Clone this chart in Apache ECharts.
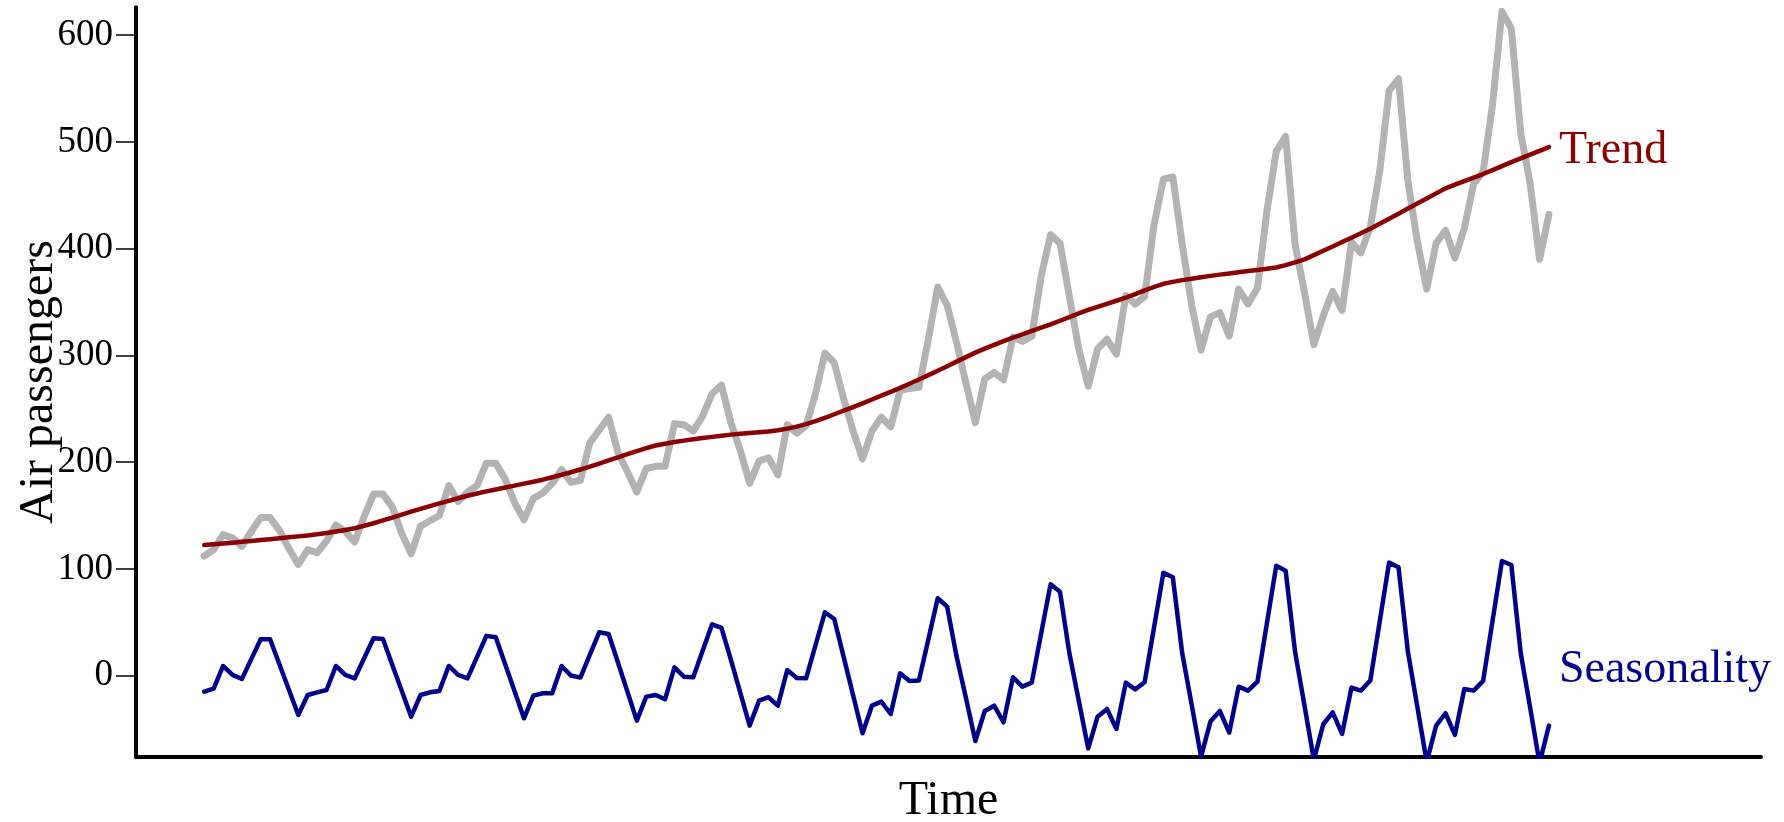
<!DOCTYPE html>
<html>
<head>
<meta charset="utf-8">
<script src="https://cdn.jsdelivr.net/npm/echarts@6/dist/echarts.min.js"></script>
<style>
html,body{margin:0;padding:0;background:#fff;}
#chart{width:1784px;height:822px;}
</style>
</head>
<body>
<div id="chart"></div>
<script>
// Monthly AirPassengers, Jan 1949 .. Dec 1960
const passengers = [
112,118,132,129,121,135,148,148,136,119,104,118,
115,126,141,135,125,149,170,170,158,133,114,140,
145,150,178,163,172,178,199,199,184,162,146,166,
171,180,193,181,183,218,230,242,209,191,172,194,
196,196,236,235,229,243,264,272,237,211,180,201,
204,188,235,227,234,264,302,293,259,229,203,229,
242,233,267,269,270,315,364,347,312,274,237,278,
284,277,317,313,318,374,413,405,355,306,271,306,
315,301,356,348,355,422,465,467,404,347,305,336,
340,318,362,348,363,435,491,505,404,359,310,337,
360,342,406,396,420,472,548,559,463,407,362,405,
417,391,419,461,472,535,622,606,508,461,390,432
];

const trend = [
122.3,123.0,123.8,124.5,125.3,126.1,126.9,127.7,128.6,129.5,130.4,131.3,
132.3,133.5,134.9,136.4,138.0,140.3,142.7,145.3,148.0,150.8,153.5,156.2,
158.8,161.3,163.7,166.1,168.4,170.5,172.5,174.3,176.1,177.9,179.8,181.6,
183.5,185.8,188.1,190.5,193.0,195.8,198.6,201.5,204.5,207.4,210.3,213.0,
215.5,217.2,218.8,220.1,221.3,222.5,223.6,224.7,225.7,226.5,227.2,227.9,
228.6,229.8,231.3,233.2,235.6,238.4,241.5,244.8,248.1,251.5,255.0,258.6,
262.2,265.8,269.5,273.4,277.4,281.4,285.5,289.8,294.1,298.3,302.5,306.2,
309.8,313.2,316.5,319.7,322.8,325.9,329.0,332.4,335.8,339.2,342.5,345.4,
348.2,351.1,354.0,357.4,360.8,364.0,367.0,368.8,370.4,371.8,373.2,374.4,
375.6,376.7,377.8,378.9,380.0,381.1,382.3,384.5,387.1,389.9,393.8,397.9,
402.0,406.1,410.2,414.3,418.5,423.2,427.9,432.7,437.5,442.2,446.9,451.7,
456.4,459.9,463.2,466.5,469.8,473.5,477.2,480.9,484.5,488.0,491.5,495.0
];

const seasonality = [
-15.1,-12.3,9.0,0.6,-3.2,15.4,34.0,34.0,10.4,-13.3,-36.9,-18.2,
-15.7,-13.5,9.0,0.6,-2.6,16.2,35.0,34.3,10.0,-14.2,-38.5,-18.2,
-15.7,-14.4,9.0,0.6,-2.6,17.3,37.2,35.9,10.6,-14.7,-40.0,-18.8,
-16.6,-16.6,9.0,0.0,-1.9,19.3,40.5,39.0,12.0,-15.0,-42.2,-19.7,
-18.2,-22.2,7.7,-1.0,-1.6,23.2,48.0,44.6,15.0,-16.0,-46.9,-23.5,
-20.3,-28.2,5.2,-2.2,-2.6,28.4,59.3,53.0,17.3,-18.4,-54.1,-28.2,
-24.4,-36.0,2.1,-5.0,-4.7,33.9,72.4,64.6,18.0,-21.0,-61.3,-33.2,
-28.2,-43.8,-1.6,-10.4,-6.6,39.5,85.5,78.6,20.9,-23.6,-68.2,-38.5,
-31.3,-50.0,-6.6,-12.9,-6.3,45.0,96.4,92.0,20.9,-27.0,-76.0,-43.1,
-33.2,-53.4,-10.4,-14.1,-5.7,48.6,102.9,98.3,22.4,-28.0,-79.0,-45.6,
-34.4,-54.7,-11.3,-14.1,-4.7,50.5,105.8,101.4,22.4,-29.0,-81.0,-46.9,
-35.3,-55.6,-12.6,-14.1,-5.0,51.2,107.3,103.6,20.9,-30.0,-82.0,-46.9
];

const yTicks = [0, 100, 200, 300, 400, 500, 600];
const yLabel = 'Air passengers';
const xLabel = 'Time';
const trendName = 'Trend';
const seasonName = 'Seasonality';

const toPairs = arr => arr.map((v, i) => [i, v]);
const serif = '"Liberation Serif", "DejaVu Serif", serif';

const chart = echarts.init(document.getElementById('chart'), null, {renderer: 'canvas'});
chart.setOption({
  animation: false,
  backgroundColor: '#ffffff',
  grid: {left: 136, right: 23, top: 7.3, bottom: 65.3, containLabel: false, outerBoundsMode: 'none'},
  xAxis: {
    type: 'value',
    min: -7.26,
    max: 165.55,
    name: xLabel,
    nameLocation: 'middle',
    nameGap: 21,
    nameMoveOverlap: false,
    nameTextStyle: {fontFamily: serif, fontSize: 48, color: '#000', verticalAlign: 'top'},
    axisLine: {show: true, onZero: false, lineStyle: {color: '#000', width: 4}},
    axisTick: {show: false},
    axisLabel: {show: false},
    splitLine: {show: false}
  },
  yAxis: {
    type: 'value',
    min: -76,
    max: 626,
    name: yLabel,
    nameLocation: 'middle',
    nameGap: 97,
    nameRotate: 90,
    nameMoveOverlap: false,
    nameTextStyle: {fontFamily: serif, fontSize: 48, color: '#000', verticalAlign: 'middle', align: 'center'},
    axisLine: {show: true, onZero: false, lineStyle: {color: '#000', width: 4}},
    axisTick: {show: true, inside: false, length: 20, customValues: yTicks, lineStyle: {color: '#000', width: 1.5}},
    axisLabel: {show: true, customValues: yTicks, margin: 23, fontFamily: serif, fontSize: 37, color: '#000'},
    splitLine: {show: false}
  },
  series: [
    {
      type: 'line',
      name: 'Passengers',
      data: toPairs(passengers),
      symbol: 'none',
      lineStyle: {color: '#b3b3b3', width: 7, cap: 'round', join: 'round'},
      z: 2
    },
    {
      type: 'line',
      name: trendName,
      data: toPairs(trend),
      symbol: 'none',
      lineStyle: {color: '#8b0000', width: 4.5, cap: 'round', join: 'round'},
      endLabel: {show: true, formatter: trendName, color: '#8b0000', fontFamily: serif, fontSize: 46, distance: 10, offset: [0, 4]},
      z: 3
    },
    {
      type: 'line',
      name: seasonName,
      data: toPairs(seasonality),
      symbol: 'none',
      lineStyle: {color: '#00008b', width: 4.5, cap: 'round', join: 'round'},
      endLabel: {show: true, formatter: seasonName, color: '#00008b', fontFamily: serif, fontSize: 46, distance: 10, offset: [0, -56]},
      z: 4
    }
  ]
});
</script>
</body>
</html>
